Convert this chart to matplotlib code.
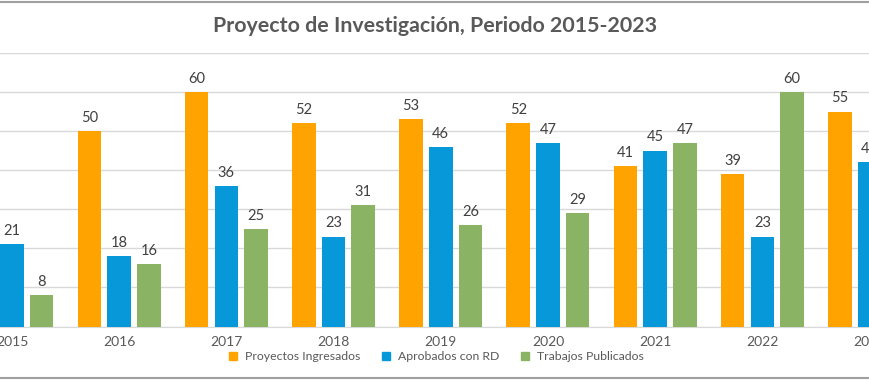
import numpy as np
import matplotlib
matplotlib.use('Agg')
import matplotlib.pyplot as plt
from matplotlib.lines import Line2D

# Data (2015 orange and 2023 green fall outside the visible crop)
years = ['2015', '2016', '2017', '2018', '2019', '2020', '2021', '2022', '2023']
ingresados = [np.nan, 50, 60, 52, 53, 52, 41, 39, 55]
aprobados = [21, 18, 36, 23, 46, 47, 45, 23, 42]
publicados = [8, 16, 25, 31, 26, 29, 47, 60, np.nan]

series_names = ['Proyectos Ingresados', 'Aprobados con RD', 'Trabajos Publicados']
colors = ['#FFA300', '#0798DA', '#8AB464']

plt.rcParams['font.family'] = ['Lato', 'DejaVu Sans']

fig = plt.figure(figsize=(8.7, 3.81), dpi=100)
ax = fig.add_axes([0, 1 - 326.5 / 381, 1, (326.5 - 53) / 381])

x = np.arange(len(years))
width = 0.22
step = 0.277

for k, (vals, c) in enumerate(zip([ingresados, aprobados, publicados], colors)):
    pos = x + (k - 1) * step
    h = np.nan_to_num(np.array(vals, dtype=float))
    ax.bar(pos, h, width=width, color=c, zorder=3, label=series_names[k])
    for p, v in zip(pos, vals):
        if not np.isnan(v):
            ax.text(p, v + 1.6, str(int(v)), ha='center', va='bottom',
                    fontsize=10.5, color='#404040')

ax.set_xlim(-0.112, 8.004)
ax.set_ylim(0, 70)
ax.set_yticks(np.arange(0, 71, 10))
ax.yaxis.grid(True, color='#D9D9D9', linewidth=1, zorder=0)
ax.tick_params(axis='y', left=False, labelleft=False)
ax.tick_params(axis='x', length=0, pad=7, labelsize=10, labelcolor='#595959')
ax.set_xticks(x)
ax.set_xticklabels(years)
for s in ['top', 'left', 'right']:
    ax.spines[s].set_visible(False)
ax.spines['bottom'].set_color('#D9D9D9')

fig.text(0.5, 1 - 26 / 381, 'Proyecto de Investigación, Periodo 2015-2023',
         ha='center', va='center', fontsize=15.4, fontweight='bold', color='#595959')

handles = [Line2D([], [], marker='s', linestyle='none', markersize=5.5,
                  markerfacecolor=c, markeredgecolor=c) for c in colors]
fig.legend(handles, series_names, loc='center', bbox_to_anchor=(0.497, 1 - 357 / 381),
           ncol=3, frameon=False, fontsize=8.8, handletextpad=0.0,
           columnspacing=1.1, labelcolor='#595959')

# outer chart border (visible top and bottom edges of the cropped chart)
fig.add_artist(Line2D([0, 1], [1 - 1.5 / 381, 1 - 1.5 / 381], color='#A0A0A0', linewidth=1.5))
fig.add_artist(Line2D([0, 1], [1 - 378 / 381, 1 - 378 / 381], color='#A0A0A0', linewidth=1.5))

plt.savefig('out.png', dpi=100)
